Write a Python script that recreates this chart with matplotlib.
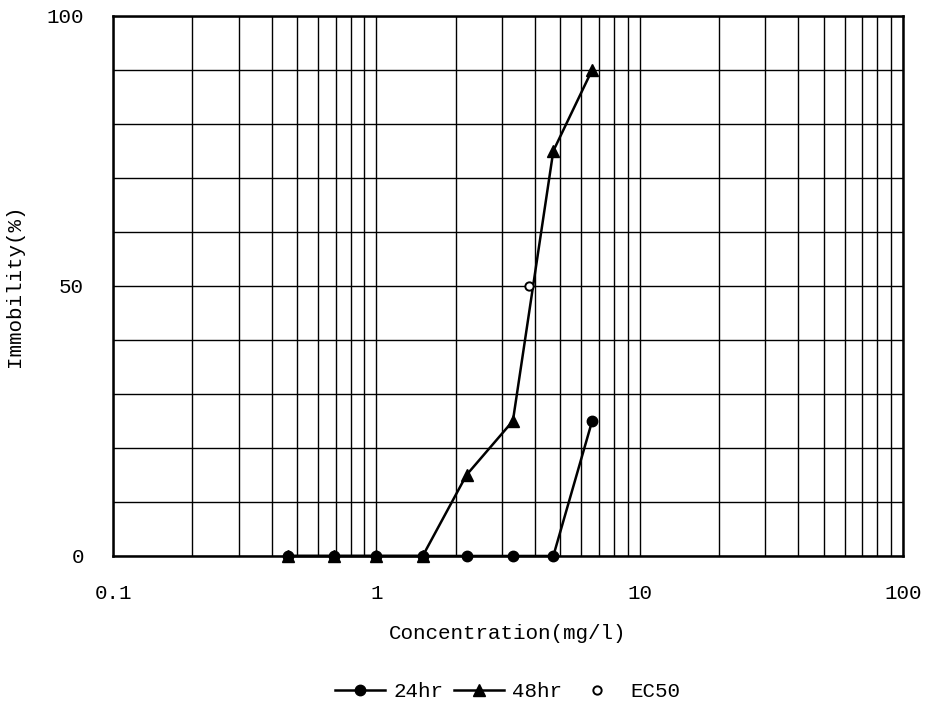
# Immobility vs concentration chart (log x axis)

import matplotlib
matplotlib.use("Agg")
import matplotlib.pyplot as plt
from matplotlib.ticker import LogLocator, FixedLocator, NullFormatter

conc = [0.46, 0.69, 1.0, 1.5, 2.2, 3.3, 4.7, 6.6]
immob_24hr = [0, 0, 0, 0, 0, 0, 0, 25]
immob_48hr = [0, 0, 0, 0, 15, 25, 75, 90]
ec50_conc = [3.8]
ec50_val = [50]

x_ticks = [0.1, 1, 10, 100]
x_tick_labels = ["0.1", "1", "10", "100"]
y_ticks = [0, 50, 100]

plt.rcParams['font.family'] = ['Liberation Mono', 'DejaVu Sans Mono']
plt.rcParams['font.size'] = 15

fig = plt.figure(figsize=(9.25, 7.06), dpi=100)
ax = fig.add_axes([0.1222, 0.2125, 0.854, 0.765])

line24, = ax.plot(conc, immob_24hr, color='black', lw=1.8, marker='o', ms=7.5,
                  zorder=3, clip_on=False)
line48, = ax.plot(conc, immob_48hr, color='black', lw=1.8, marker='^', ms=8.5,
                  zorder=4, clip_on=False)
ec50, = ax.plot(ec50_conc, ec50_val, ls='none', marker='o', ms=6, mfc='white',
                mec='black', mew=1.4, zorder=5)

ax.set_xscale('log')
ax.set_xlim(0.1, 100)
ax.set_ylim(0, 100)

ax.xaxis.set_major_locator(FixedLocator(x_ticks))
ax.set_xticklabels(x_tick_labels)
ax.xaxis.set_minor_locator(LogLocator(base=10, subs=range(2, 10)))
ax.xaxis.set_minor_formatter(NullFormatter())
ax.set_yticks(y_ticks)
ax.yaxis.set_minor_locator(FixedLocator(range(0, 101, 10)))

ax.grid(which='both', axis='both', color='black', lw=1.0)
ax.tick_params(which='both', length=0)
ax.tick_params(axis='x', pad=20)
ax.tick_params(axis='y', pad=21)
for s in ax.spines.values():
    s.set_linewidth(1.8)

ax.set_xlabel('Concentration(mg/l)', labelpad=15)
ax.set_ylabel('Immobility(%)', labelpad=16)

fig.legend([line24, line48, ec50], ['24hr', '48hr', 'EC50'],
           loc='center', bbox_to_anchor=(0.549, 0.02), ncol=3, frameon=False,
           handlelength=2.4, handletextpad=0.4, columnspacing=0.5, fontsize=15)

fig.savefig('out.png', dpi=100)
